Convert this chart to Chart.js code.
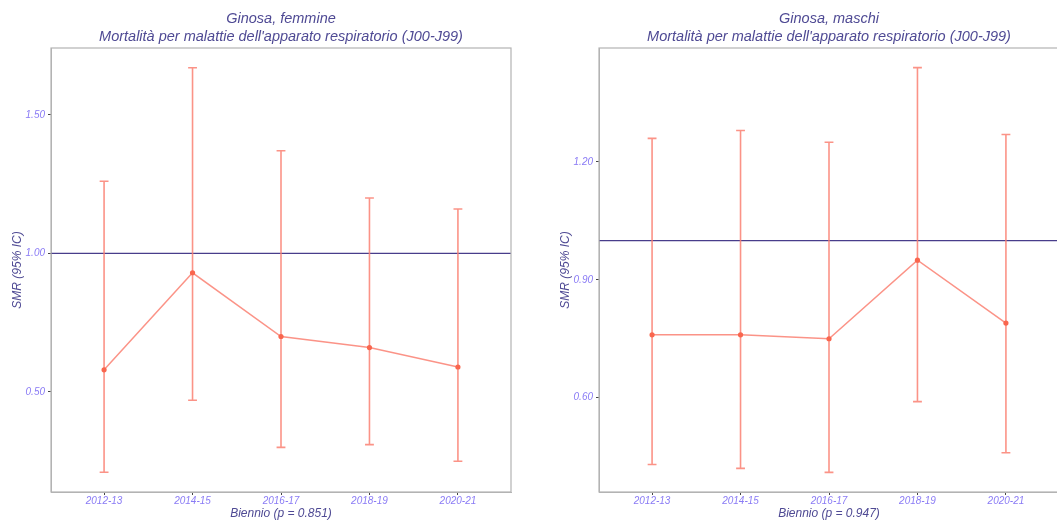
<!DOCTYPE html>
<html>
<head>
<meta charset="utf-8">
<script src="https://cdn.jsdelivr.net/npm/chart.js@4/dist/chart.umd.min.js"></script>
<style>
  html, body { margin: 0; padding: 0; background: #fff; overflow: hidden; width: 1057px; height: 522px; }
  .panel { position: absolute; top: 0; height: 522px; }
  #left { left: 0; width: 530px; }
  #right { left: 548px; width: 530px; }
</style>
</head>
<body>
<div class="panel" id="left"><canvas id="chartF"></canvas></div>
<div class="panel" id="right"><canvas id="chartM"></canvas></div>
<script>
// categories (bienni)
const periods = ["2012-13", "2014-15", "2016-17", "2018-19", "2020-21"];

// femmine: SMR and 95% CI
const smrF = [0.58, 0.93, 0.70, 0.66, 0.59];
const lowF = [0.21, 0.47, 0.30, 0.31, 0.25];
const highF = [1.26, 1.67, 1.37, 1.20, 1.16];
const ticksF = [0.5, 1.0, 1.5];

// maschi: SMR and 95% CI
const smrM = [0.76, 0.76, 0.75, 0.95, 0.79];
const lowM = [0.43, 0.42, 0.41, 0.59, 0.46];
const highM = [1.26, 1.28, 1.25, 1.44, 1.27];
const ticksM = [0.6, 0.9, 1.2];

const salmon = "rgba(250,128,114,0.85)";
const pointCol = "#f9664e";
const refCol = "#483d8b";
const tickCol = "#8a7bf5";
const titleCol = "#4f4a94";
const capHalf = 0.05;
const fam = "'Liberation Sans', Arial, sans-serif";

// gray box round the plot area
const panelBorder = {
  id: "panelBorder",
  afterDraw(chart) {
    const a = chart.chartArea, ctx = chart.ctx;
    ctx.save();
    ctx.strokeStyle = "#b3b3b3";
    ctx.lineWidth = 1.2;
    ctx.strokeRect(a.left, a.top, a.right - a.left, a.bottom - a.top);
    ctx.restore();
  }
};

function errorSegments(low, high) {
  const pts = [];
  low.forEach((lo, i) => {
    const hi = high[i];
    pts.push({x: i, y: lo}, {x: i, y: hi}, {x: i, y: null});
    pts.push({x: i - capHalf, y: hi}, {x: i + capHalf, y: hi}, {x: i, y: null});
    pts.push({x: i - capHalf, y: lo}, {x: i + capHalf, y: lo}, {x: i, y: null});
  });
  return pts;
}

function makeChart(id, sex, smr, low, high, yMin, yMax, yTicks, pval) {
  new Chart(document.getElementById(id), {
    type: "line",
    data: {
      datasets: [
        {
          data: [{x: -0.6, y: 1}, {x: 4.6, y: 1}],
          borderColor: refCol, borderWidth: 1.2, pointRadius: 0, order: 3
        },
        {
          data: errorSegments(low, high),
          borderColor: salmon, borderWidth: 1.6, pointRadius: 0, spanGaps: false, order: 2
        },
        {
          data: smr.map((v, i) => ({x: i, y: v})),
          borderColor: salmon, borderWidth: 1.5,
          pointRadius: 2.6, pointBackgroundColor: pointCol, pointBorderWidth: 0, order: 1
        }
      ]
    },
    options: {
      responsive: true,
      maintainAspectRatio: false,
      animation: false,
      layout: { padding: { right: 19 } },
      plugins: {
        legend: { display: false },
        tooltip: { enabled: false },
        title: {
          display: true,
          fullSize: false,
          text: ["Ginosa, " + sex, "Mortalità per malattie dell'apparato respiratorio (J00-J99)"],
          color: titleCol,
          font: { family: fam, size: 14.5, style: "italic", weight: "normal", lineHeight: 1.25 },
          padding: { top: 9.5, bottom: 2.25 }
        }
      },
      scales: {
        x: {
          type: "linear",
          min: -0.6, max: 4.6,
          afterBuildTicks: s => { s.ticks = periods.map((p, i) => ({value: i})); },
          afterFit: s => { s.height = 30; },
          grid: { drawOnChartArea: false, color: "#444", tickLength: 3 },
          border: { color: "#b3b3b3" },
          ticks: {
            callback: v => periods[v],
            color: tickCol, padding: 0, maxRotation: 0,
            font: { family: fam, size: 10, style: "italic" }
          },
          title: {
            display: true, text: "Biennio (p = " + pval + ")", color: titleCol,
            padding: { top: 0, bottom: 1 },
            font: { family: fam, size: 12, style: "italic" }
          }
        },
        y: {
          min: yMin, max: yMax,
          afterBuildTicks: s => { s.ticks = yTicks.map(v => ({value: v})); },
          afterFit: s => { s.width = 51; },
          grid: { drawOnChartArea: false, color: "#444", tickLength: 3 },
          border: { color: "#b3b3b3" },
          ticks: {
            callback: v => v.toFixed(2),
            color: tickCol, padding: 3,
            font: { family: fam, size: 10, style: "italic" }
          },
          title: {
            display: true, text: "SMR (95% IC)", color: titleCol,
            padding: { top: 10, bottom: 0 },
            font: { family: fam, size: 12, style: "italic" }
          }
        }
      }
    },
    plugins: [panelBorder]
  });
}

makeChart("chartF", "femmine", smrF, lowF, highF, 0.139, 1.741, ticksF, "0.851");
makeChart("chartM", "maschi", smrM, lowM, highM, 0.36, 1.49, ticksM, "0.947");
</script>
</body>
</html>
